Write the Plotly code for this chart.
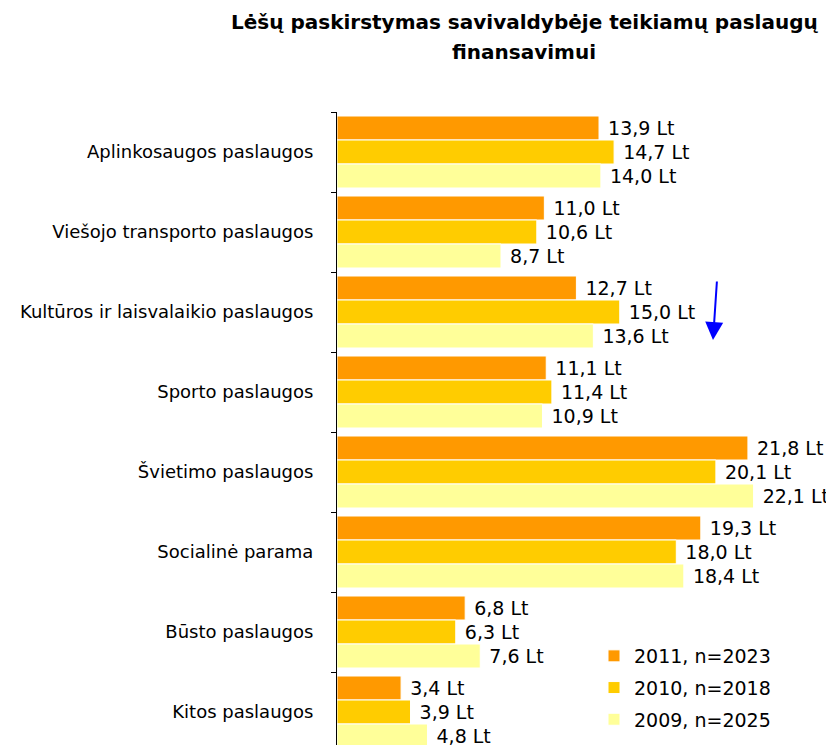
import plotly.graph_objects as go

categories = ["Aplinkosaugos paslaugos", "Viešojo transporto paslaugos",
              "Kultūros ir laisvalaikio paslaugos", "Sporto paslaugos",
              "Švietimo paslaugos", "Socialinė parama", "Būsto paslaugos",
              "Kitos paslaugos"]
series_names = ["2011, n=2023", "2010, n=2018", "2009, n=2025"]
values_2011 = [13.9, 11.0, 12.7, 11.1, 21.8, 19.3, 6.8, 3.4]
values_2010 = [14.7, 10.6, 15.0, 11.4, 20.1, 18.0, 6.3, 3.9]
values_2009 = [14.0, 8.7, 13.6, 10.9, 22.1, 18.4, 7.6, 4.8]
title_lines = ["Lėšų paskirstymas savivaldybėje teikiamų paslaugų", "finansavimui"]
colors = ["#FF9900", "#FFCC00", "#FFFF99"]

OFF = 8  # page body margin
W, H = 834 - OFF, 745 - OFF
L, T = 337 - OFF, 112 - OFF
px_per_unit = 18.85
pitch = 80
FONT = "DejaVu Sans"
FS = 19

def fmt(v):
    return "\u00a0" + f"{v:.1f}".replace(".", ",") + " Lt"

fig = go.Figure()
for i, (name, vals, col) in enumerate(zip(series_names, [values_2011, values_2010, values_2009], colors)):
    fig.add_trace(go.Bar(
        y=categories, x=vals, name=name, orientation="h", legendgroup=f"g{i}",
        marker=dict(color=col, line=dict(color="white", width=1)),
        text=[fmt(v) for v in vals], textposition="outside",
        textfont=dict(family=FONT, size=FS, color="black"),
        cliponaxis=False,
    ))

plot_w = W - L
plot_h = H - T
y_bottom = -0.5 + plot_h / pitch

fig.update_layout(
    width=W, height=H,
    margin=dict(l=L, r=0, t=T, b=0, pad=0, autoexpand=False),
    paper_bgcolor="white", plot_bgcolor="white",
    barmode="group", bargap=0.1, bargroupgap=0,
    font=dict(family=FONT, size=FS, color="black"),
    xaxis=dict(range=[0, plot_w / px_per_unit], showticklabels=False, showgrid=False,
               zeroline=False, showline=False, ticks=""),
    yaxis=dict(type="category", categoryorder="array", categoryarray=categories,
               range=[y_bottom, -0.5], showline=True, linecolor="black", linewidth=1,
               ticks="outside", tickson="boundaries", ticklen=5, tickcolor="black",
               ticklabelstandoff=19,
               showgrid=False, zeroline=False,
               tickfont=dict(family=FONT, size=18, color="black")),
    legend=dict(x=(594 - 337) / plot_w, y=(745 - 637) / plot_h, xanchor="left", yanchor="top",
                font=dict(family=FONT, size=FS, color="black"),
                bgcolor="rgba(0,0,0,0)", traceorder="grouped", tracegroupgap=4),
    showlegend=True,
)

for line, yc in zip(title_lines, [22, 52]):
    fig.add_annotation(
        text=f"<b>{line}</b>",
        xref="paper", yref="paper", x=(524 - 337) / plot_w, y=1 + (112 - yc) / plot_h,
        xanchor="center", yanchor="middle", showarrow=False,
        font=dict(family=FONT, size=20, color="black"),
    )

fig.add_annotation(
    x=(713 - 337) / px_per_unit, y=(340 - 112) / pitch - 0.5, xref="x", yref="y",
    ax=4, ay=-60, showarrow=True, arrowhead=2, arrowsize=1.8, arrowwidth=2,
    arrowcolor="#0000FF", text="",
)

fig.write_html("out.html")
